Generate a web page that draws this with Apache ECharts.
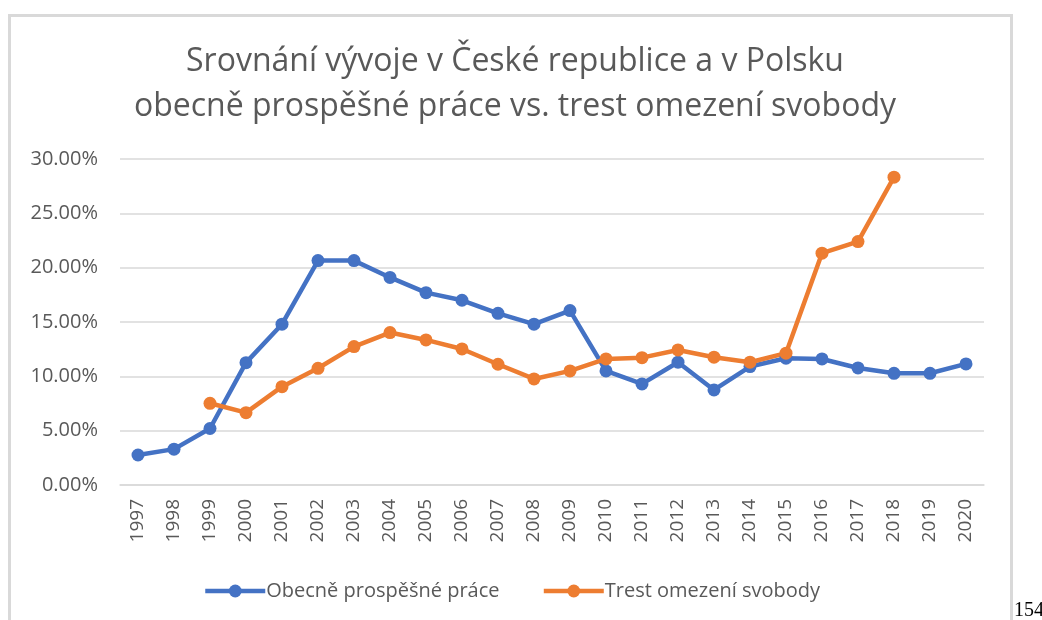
<!DOCTYPE html>
<html>
<head>
<meta charset="utf-8">
<script src="https://cdn.jsdelivr.net/npm/echarts@6/dist/echarts.min.js"></script>
<style>
  html, body { margin: 0; padding: 0; background: #fff; }
  #chart { width: 1042px; height: 620px; }
</style>
</head>
<body>
<div id="chart"></div>
<script>
// roky na ose x
const years = ['1997', '1998', '1999', '2000', '2001', '2002', '2003', '2004', '2005', '2006', '2007', '2008',
  '2009', '2010', '2011', '2012', '2013', '2014', '2015', '2016', '2017', '2018', '2019', '2020']

// podíl v procentech
const obecnePrace = [2.76, 3.3, 5.2, 11.26, 14.8, 20.65, 20.65, 19.1, 17.7, 17.0, 15.8, 14.8,
  16.05, 10.5, 9.3, 11.3, 8.75, 10.9, 11.67, 11.6, 10.77, 10.28, 10.28, 11.14]
const trestOmezeni = [null, null, 7.52, 6.66, 9.05, 10.74, 12.74, 14.03, 13.35, 12.52, 11.11, 9.76,
  10.5, 11.6, 11.72, 12.43, 11.76, 11.3, 12.13, 21.33, 22.4, 28.33, null, null]

const seriesNames = ['Obecně prospěšné práce', 'Trest omezení svobody']
const titleLines = ['Srovnání vývoje v České republice a v Polsku', 'obecně prospěšné práce vs. trest omezení svobody']

const font = '"Open Sans", sans-serif'
const grey = '#595959'

const chart = echarts.init(document.getElementById('chart'))

function lineSeries(name, data, color) {
  return {
    name,
    type: 'line',
    data,
    symbol: 'circle',
    symbolSize: 13,
    itemStyle: { color },
    lineStyle: { color, width: 4.5 },
    connectNulls: false,
  }
}

chart.setOption({
  animation: false,
  textStyle: { fontFamily: font },
  title: {
    text: titleLines.join('\n'),
    left: 510,
    top: 34,
    textAlign: 'center',
    textStyle: { fontFamily: font, fontSize: 32, fontWeight: 'normal', color: grey, lineHeight: 45 },
  },
  legend: {
    data: seriesNames,
    left: 198,
    top: 576,
    itemWidth: 60,
    itemHeight: 16,
    itemGap: 42,
    lineStyle: { width: 4.5 },
    textStyle: { fontFamily: font, fontSize: 20, color: grey, padding: [0, 0, 0, -4] },
  },
  grid: { left: 120, right: 58, top: 159, bottom: 135 },
  xAxis: {
    type: 'category',
    data: years,
    boundaryGap: true,
    axisTick: { show: false },
    axisLine: { lineStyle: { color: '#d9d9d9', width: 1.5 } },
    axisLabel: { rotate: 90, margin: 14, fontFamily: font, fontSize: 19, color: grey },
  },
  yAxis: {
    type: 'value',
    min: 0,
    max: 30,
    interval: 5,
    axisLine: { show: false },
    axisTick: { show: false },
    splitLine: { lineStyle: { color: '#d9d9d9', width: 1.5 } },
    axisLabel: {
      margin: 22,
      fontFamily: font,
      fontSize: 20,
      color: grey,
      formatter: (v) => v.toFixed(2) + '%',
    },
  },
  graphic: [
    {
      type: 'rect',
      silent: true,
      shape: { x: 9.5, y: 15.5, width: 1002, height: 700 },
      style: { fill: 'none', stroke: '#d9d9d9', lineWidth: 3 },
    },
    {
      type: 'text',
      left: 1014,
      top: 601,
      style: { text: '154', font: '20px "Liberation Serif", serif', fill: '#000' },
    },
  ],
  series: [
    lineSeries(seriesNames[0], obecnePrace, '#4472C4'),
    lineSeries(seriesNames[1], trestOmezeni, '#ED7D31'),
  ],
})
</script>
</body>
</html>
